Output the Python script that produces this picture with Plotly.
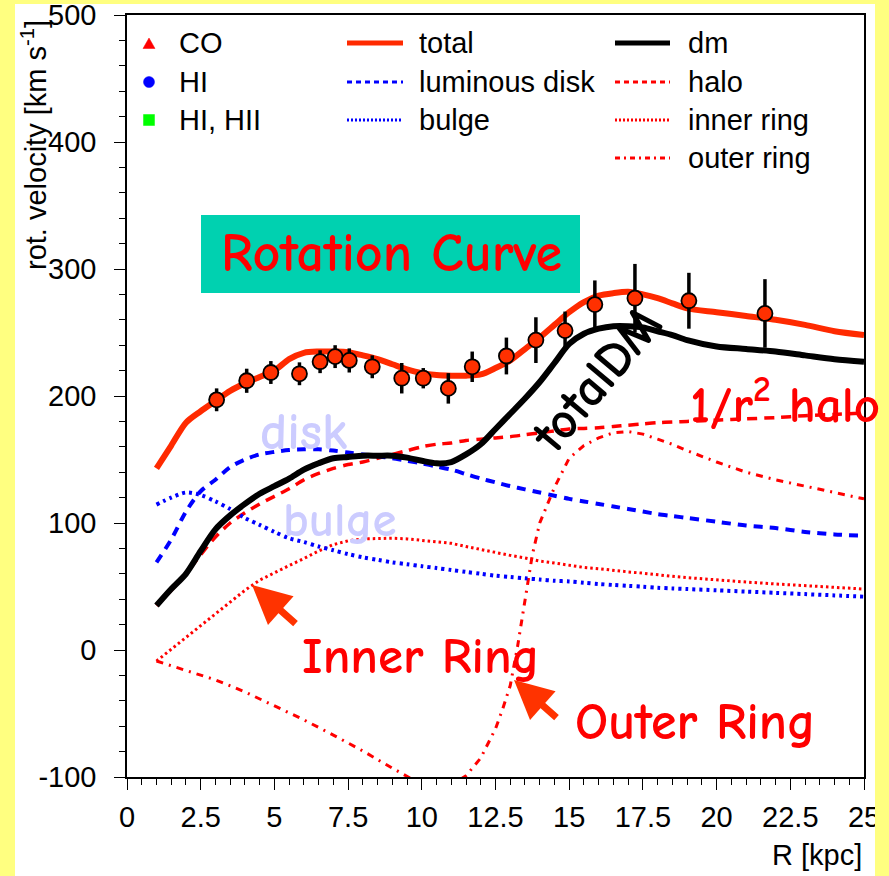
import plotly.graph_objects as go

# ---------------- data ----------------
R_obs = [3.04, 4.06, 4.88, 5.85, 6.55, 7.06, 7.54, 8.32, 9.32, 10.05, 10.9, 11.71,
         12.87, 13.87, 14.86, 15.87, 17.23, 19.06, 21.64]
v_obs = [197, 212, 218.5, 217.5, 227, 231, 228, 223, 214, 214, 206, 223,
         231.5, 244, 251.5, 272, 277, 275, 265]
v_err = [9, 9.5, 9, 9, 9, 9, 9.5, 9, 12, 8, 12, 12,
         14.5, 18, 15, 19, 27, 22, 27]

R_model = [1, 1.5, 2, 2.5, 3, 3.5, 4, 4.5, 5, 5.5, 6, 6.5, 7, 7.5, 8, 8.5, 9, 9.5, 10, 10.5,
           11, 11.5, 12, 12.5, 13, 13.5, 14, 14.5, 15, 15.5, 16, 16.5, 17, 17.5, 18, 18.5, 19,
           20, 21, 22, 23, 24, 25]
v_total = [143, 161, 179, 188, 196, 204, 210, 215, 220, 229, 234, 235, 235, 234.5, 232, 229,
           225, 221, 218, 216.5, 216, 216, 217, 222, 228, 237, 246, 256, 266, 274, 279, 281,
           282, 280, 277, 273, 269, 266, 263, 260, 256, 251, 248]
v_dm = [35, 48, 60, 78, 95, 106, 115, 123, 129, 135, 142, 147, 151, 152, 153, 153, 153, 151.5,
        149, 147, 148, 154, 162, 174, 186, 198, 211, 226, 241, 249, 253, 255, 255, 254, 251,
        248, 244, 239, 237, 235, 232, 229, 227]
v_halo = [35, 47, 60, 75, 89, 100, 108, 115, 121, 127, 134, 139, 143, 146, 148, 151, 154, 157,
          160, 162, 163, 165, 166, 167, 168, 169.5, 171, 172.5, 174, 174.5, 175, 176, 177, 178,
          179, 179.5, 180, 181, 182, 183, 184.5, 185.5, 186.5]
v_disk = [69, 87, 109, 125, 134, 144, 150, 154, 156, 157.5, 158, 158, 157, 155.5, 154, 152.5,
          151, 149, 147, 144.5, 142, 138.5, 135, 132, 129, 126.5, 124, 121.5, 119, 117, 115,
          113, 111, 109, 107, 105.5, 104, 101, 98, 96, 93, 91, 90]
v_bulge = [114.5, 120, 124, 122, 117, 111, 104, 98.5, 93, 88, 85, 81.5, 78.5, 75.5, 73, 71, 69,
           67.5, 66, 64.5, 63, 61.5, 60, 58.5, 57.5, 56.5, 55.5, 54.5, 54, 53, 52, 51.2, 50.5,
           49.8, 49, 48.5, 48, 47, 46, 45, 44, 43, 42]
v_inner = [-8.7, 0.5, 9.7, 19, 28, 37.5, 47, 55, 61, 66.5, 72, 78, 83, 86, 87.5, 88, 88, 87.5,
           86.5, 85.5, 84, 81.5, 79, 77, 74.5, 72.5, 70, 68.5, 66.5, 65, 64, 62.5, 61.5, 60.5,
           59, 58, 57, 55, 53.5, 52, 50.5, 49, 48]
R_outer = [1, 2, 3, 4, 5, 6, 7, 8, 9, 10, 10.75, 11.5, 12, 12.5, 12.75, 13, 13.25, 13.5, 13.75,
           14, 14.5, 15, 15.5, 16, 16.5, 17, 17.5, 18, 18.5, 19, 20, 21, 22, 23, 24, 25]
v_outer = [-8.7, -16, -23.5, -33, -44, -55, -67, -79.5, -93, -106, -110, -99, -85, -62, -46,
           -28, 3, 38, 75, 100, 128, 151, 161, 167, 171, 172, 170, 166, 162, 157, 148, 140,
           134, 129, 124, 119]

x_ticks = [0, 2.5, 5, 7.5, 10, 12.5, 15, 17.5, 20, 22.5, 25]
x_ticktext = ["0", "2.5", "5", "7.5", "10", "12.5", "15", "17.5", "20", "22.5", "25"]
y_ticks = [-100, 0, 100, 200, 300, 400, 500]
y_ticktext = ["-100", "0", "100", "200", "300", "400", "500"]

# ---------------- layout helpers ----------------
W, H = 889, 876
L, Rr, T, B = 127, 864, 15, 777


def px(x):
    return (x - L) / (Rr - L)


def py(y):
    return (B - y) / (B - T)


RED = "#FF0000"
BLUE = "#0000FF"
ORANGE = "#FF2A00"
AX_FONT = dict(family="Liberation Sans, Arial, sans-serif", size=29, color="black")
COMIC = "Comic Sans MS, Comic Neue, DejaVu Sans, sans-serif"

fig = go.Figure()

def add_line(x, y, color, width, dash, shape="spline"):
    fig.add_trace(go.Scatter(x=x, y=y, mode="lines",
                             line=dict(color=color, width=width, dash=dash, shape=shape,
                                       smoothing=0.8),
                             hoverinfo="skip", showlegend=False))

add_line(R_model, v_halo, RED, 3.5, "10px,7px")
add_line(R_model, v_inner, RED, 3, "2.5px,3px", shape="linear")
add_line(R_outer, v_outer, RED, 3, "7px,6px,2px,6px", shape="linear")
add_line(R_model, v_disk, BLUE, 4, "9px,7px")
add_line(R_model, v_bulge, BLUE, 4, "3px,4px")
add_line(R_model, v_dm, "black", 6, "solid")
add_line(R_model, v_total, ORANGE, 6, "solid")

fig.add_trace(go.Scatter(
    x=R_obs, y=v_obs, mode="markers",
    marker=dict(symbol="circle", size=15, color="#FF3000", line=dict(color="black", width=1.8)),
    error_y=dict(type="data", array=v_err, color="black", thickness=3.5, width=0),
    hoverinfo="skip", showlegend=False))

axis_common = dict(showline=True, linecolor="black", linewidth=1.5, mirror=True,
                   ticks="outside", ticklen=11, tickwidth=1, tickcolor="black",
                   showgrid=False, zeroline=False, tickfont=AX_FONT,
                   ticklabeloverflow="allow", automargin=False)

fig.update_xaxes(range=[0, 25], tickvals=x_ticks, ticktext=x_ticktext,
                 minor=dict(dtick=0.5, tick0=0, ticklen=6, ticks="outside",
                            tickcolor="black", showgrid=False),
                 ticklabelstandoff=2, **axis_common)
fig.update_yaxes(range=[-100, 500], tickvals=y_ticks, ticktext=y_ticktext,
                 minor=dict(dtick=20, tick0=0, ticklen=6, ticks="outside",
                            tickcolor="black", showgrid=False),
                 ticklabelstandoff=12, **axis_common)

shapes = []
YEL = "#FFFF80"
# yellow frame strips
shapes.append(dict(type="rect", xref="paper", yref="paper", x0=px(-5), x1=px(15),
                   y0=py(H + 5), y1=py(-5), fillcolor=YEL, line_width=0, layer="below"))
shapes.append(dict(type="rect", xref="paper", yref="paper", x0=px(-5), x1=px(W + 5),
                   y0=py(4), y1=py(-5), fillcolor=YEL, line_width=0, layer="below"))
shapes.append(dict(type="rect", xref="paper", yref="paper", x0=px(875), x1=px(W + 5),
                   y0=py(H + 5), y1=py(-5), fillcolor=YEL, line_width=0, layer="above"))
# title box
shapes.append(dict(type="rect", xref="paper", yref="paper", x0=px(201), x1=px(580),
                   y0=py(293), y1=py(215), fillcolor="#00D1B0", line_width=0, layer="below"))

# legend symbols
shapes.append(dict(type="path", xref="paper", yref="paper",
                   path=f"M {px(143)},{py(48.5)} L {px(155)},{py(48.5)} L {px(149)},{py(38)} Z",
                   fillcolor=RED, line=dict(color=RED, width=0.5)))
shapes.append(dict(type="circle", xref="paper", yref="paper", x0=px(143.5), x1=px(154.5),
                   y0=py(87.5), y1=py(76.5), fillcolor=BLUE, line=dict(color=BLUE, width=0.5)))
shapes.append(dict(type="rect", xref="paper", yref="paper", x0=px(143.5), x1=px(154.5),
                   y0=py(125.5), y1=py(114.5), fillcolor="#00FF00", line=dict(color="#00FF00", width=0.5)))

legend_lines = [
    (347, 403, 43, ORANGE, 5, "solid"),
    (347, 403, 82, BLUE, 3, "5px,4px"),
    (347, 403, 120, BLUE, 3, "2px,2px"),
    (615, 670, 43, "black", 5, "solid"),
    (615, 670, 82, RED, 3, "5px,4px"),
    (615, 670, 120, RED, 3, "2px,2px"),
    (615, 670, 158, RED, 3, "5px,4px,2px,4px"),
]
for x0, x1, y, c, w, d in legend_lines:
    shapes.append(dict(type="line", xref="paper", yref="paper", x0=px(x0), x1=px(x1),
                       y0=py(y), y1=py(y), line=dict(color=c, width=w, dash=d)))

fig.update_layout(shapes=shapes)

ann = []
def text(x, y, s, font, xanchor="left", angle=0):
    ann.append(dict(xref="paper", yref="paper", x=px(x), y=py(y), text=s, showarrow=False,
                    xanchor=xanchor, yanchor="middle", font=font, textangle=angle))

legend_texts = [(177, 43, "CO"), (177, 82, "HI"), (177, 120, "HI, HII"),
                (417, 43, "total"), (417, 82, "luminous disk"), (417, 120, "bulge"),
                (686, 43, "dm"), (686, 82, "halo"), (686, 120, "inner ring"), (686, 158, "outer ring")]
for x, y, s in legend_texts:
    text(x, y, s, AX_FONT)

text(34, 145, "rot. velocity [km s<sup>-1</sup>]", AX_FONT, xanchor="center", angle=-90)
text(864, 855, "R [kpc]", AX_FONT, xanchor="right")

def comic(size, color):
    return dict(family=COMIC, size=size, color=color, weight=700)

text(391, 254, "Rotation Curve", comic(54, RED), xanchor="center")
text(303, 432, "disk", comic(52, "#CCCCFF"), xanchor="center")
text(340, 520, "bulge", comic(49, "#CCCCFF"), xanchor="center")
text(596, 380, "totalDM", comic(52, "black"), xanchor="center", angle=-50)
text(785, 402, "1/r<sup>2</sup> halo", comic(51, RED), xanchor="center")
text(421, 656, "Inner Ring", comic(51, RED), xanchor="center")
text(695, 722, "Outer Ring", comic(52, RED), xanchor="center")

for tip, tail in [((252, 585), (297, 625)), ((514, 680), (558, 719))]:
    ann.append(dict(xref="paper", yref="paper", x=px(tip[0]), y=py(tip[1]), text="",
                    showarrow=True, arrowhead=2, arrowsize=1.1, arrowwidth=7,
                    arrowcolor="#FF3300", ax=tail[0] - tip[0], ay=tail[1] - tip[1],
                    standoff=0))

fig.update_layout(annotations=ann, width=W, height=H,
                  margin=dict(l=L, r=W - Rr, t=T, b=H - B, pad=0, autoexpand=False),
                  paper_bgcolor="white", plot_bgcolor="white", showlegend=False)

fig.write_html("out.html")
